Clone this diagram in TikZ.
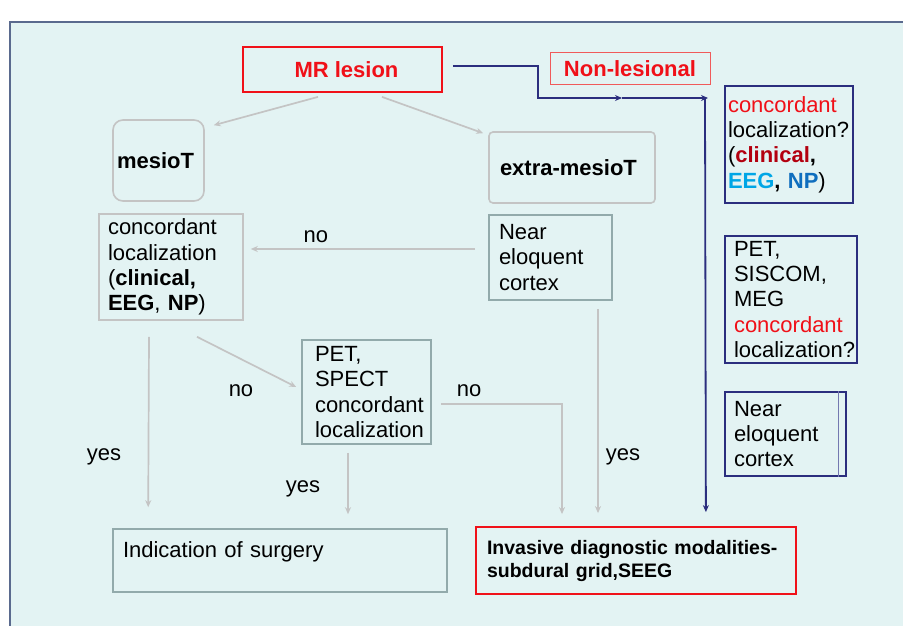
\documentclass[tikz,border=0pt]{standalone}
\usepackage{fontspec}
\setmainfont{Liberation Sans}
\usetikzlibrary{calc,arrows.meta}
\definecolor{bgc}{HTML}{E3F3F3}
\definecolor{framec}{HTML}{5A6A8E}
\definecolor{redc}{HTML}{F01018}
\definecolor{lredc}{HTML}{F05A5A}
\definecolor{navyc}{HTML}{2B2E7E}
\definecolor{lnavyc}{HTML}{7478B0}
\definecolor{grayc}{HTML}{C4C4C4}
\definecolor{tealc}{HTML}{92AAAB}
\definecolor{dredc}{HTML}{B3000F}
\definecolor{eegc}{HTML}{00A6E6}
\definecolor{npc}{HTML}{0F6EBE}
\newcommand{\msz}{\fontsize{22}{25.3}\selectfont}
\begin{document}
\begin{tikzpicture}[x=1pt,y=-1pt,
  box/.style={draw, line width=1.6pt, inner ysep=0pt, align=left, font=\msz},
  graybox/.style={box, draw=grayc},
  tealbox/.style={box, draw=tealc},
  navybox/.style={box, draw=navyc, line width=1.8pt},
  garrow/.style={draw=grayc, line width=1.7pt, -{Stealth[length=7pt,width=6pt]}},
  narrow/.style={draw=navyc, line width=1.8pt, -{Stealth[length=7pt,width=6pt]}},
  nline/.style={draw=navyc, line width=1.8pt},
  lbl/.style={font=\msz, inner sep=0pt}]
\useasboundingbox (0,0) rectangle (903,626);
\fill[white] (0,0) rectangle (903,626);
\fill[bgc] (10,22) rectangle (903,626);
\draw[framec, line width=1.2pt] (10,626) -- (10,22) -- (903,22);

% top
\node[box, draw=redc, line width=1.8pt, minimum width=199pt, minimum height=45pt, align=center, text=redc, font=\msz\bfseries] (mr) at (342.5,69.5) {\hspace*{8pt}MR lesion};
\node[box, draw=lredc, line width=1pt, minimum width=160pt, minimum height=32pt, align=center, text=redc, font=\msz\bfseries] (nonles) at (630,69) {Non-lesional};

% second row
\node[graybox, rounded corners=10pt, minimum width=91pt, minimum height=81pt, text width=83pt, inner xsep=4pt] (mesio) at (158.5,160.5) {\textbf{mesioT}};
\node[graybox, rounded corners=4pt, minimum width=166pt, minimum height=71pt, text width=144pt, inner xsep=11pt] (extra) at (572,167.5) {\textbf{extra-mesioT}};

\node[graybox, minimum width=144pt, minimum height=106pt, text width=126pt, inner xsep=9pt] (conc) at (171,267) {concordant\\localization\\(\textbf{clinical,}\\\textbf{EEG}, \textbf{NP})};
\node[tealbox, minimum width=123pt, minimum height=85pt, text width=103pt, inner xsep=10pt] (near) at (550.5,257.5) {Near\\eloquent\\cortex};
\node[tealbox, minimum width=129pt, minimum height=104pt, text width=103pt, inner xsep=13pt] (pet) at (366.5,392) {PET,\\SPECT\\concordant\\localization};

% bottom
\node[tealbox, minimum width=334pt, minimum height=63pt, text width=314pt, inner xsep=10pt, text depth=21pt] (ind) at (280,560.5) {Indication of surgery};
\node[box, draw=redc, line width=1.8pt, minimum width=320pt, minimum height=67pt, text width=298pt, inner xsep=11pt, font=\fontsize{19.5}{23}\selectfont\bfseries] (inv) at (636,560.5) {Invasive diagnostic modalities-\\subdural grid,SEEG};

% right column
\node[navybox, minimum width=128pt, minimum height=117pt, text width=122pt, inner xsep=3pt] (r1) at (789,144.5) {\textcolor{redc}{concordant}\\localization?\\(\textcolor{dredc}{\textbf{clinical}}\textbf{,}\\\textcolor{eegc}{\textbf{EEG}}\textbf{,} \textcolor{npc}{\textbf{NP}})};
\node[navybox, minimum width=132pt, minimum height=127pt, text width=114pt, inner xsep=9pt] (r2) at (791,299.5) {PET,\\SISCOM,\\MEG\\\textcolor{redc}{concordant}\\localization?};
\node[navybox, minimum width=121pt, minimum height=84pt, text width=103pt, inner xsep=9pt] (r3) at (785.5,434) {Near\\eloquent\\cortex};
\draw[lnavyc, line width=1pt] ($(r3.north east)+(-8,0)$) -- ($(r3.south east)+(-8,0)$);

% gray connectors
\draw[garrow] ($(mr.south)+(-24.5,4)$) -- ($(mesio.north east)+(9,6)$);
\draw[garrow] ($(mr.south)+(39.5,4)$) -- ($(extra.north west)+(-5,2)$);
\draw[garrow] ($(near.west)+(-13,-8.5)$) -- node[lbl, pos=0.71, above=5pt] {no} ($(conc.east)+(7,-18)$);
\draw[garrow] ($(conc.south)+(26,16)$) -- ($(pet.west)+(-5,-5)$);
\node[lbl] at (241,391) {no};
\draw[garrow] ($(conc.south)+(-22,16)$) -- ($(ind.north west)+(36,-21)$);
\node[lbl] at (104,457) {yes};
\draw[garrow] ($(pet.south)+(-18.5,8)$) -- ($(ind.north)+(68,-14)$);
\node[lbl] at (303,489) {yes};
\coordinate (pnoA) at ($(pet.east)+(9,12)$);
\coordinate (pnoB) at ($(inv.north)+(-74,-12)$);
\draw[garrow] (pnoA) -| (pnoB);
\node[lbl] at (469,391) {no};
\draw[garrow] ($(near.south)+(47.5,8)$) -- ($(inv.north)+(-38,-13)$);
\node[lbl] at (623,457) {yes};

% navy connector
\coordinate (n0) at ($(mr.east)+(10,-3.5)$);
\coordinate (n1) at (538,66);
\coordinate (n2) at (538,98);
\coordinate (n3) at (622,98);
\coordinate (n4) at (705,98);
\coordinate (n5) at ($(inv.north east)+(-91,-14)$);
\draw[nline] (n0) -- (n1) -- (n2) -- (614,98);
\draw[narrow] (n2) -- (n3);
\draw[narrow] (n3) -- ($(n4)+(3,0)$);
\draw[narrow] (n4) -- (n5);
\end{tikzpicture}
\end{document}
